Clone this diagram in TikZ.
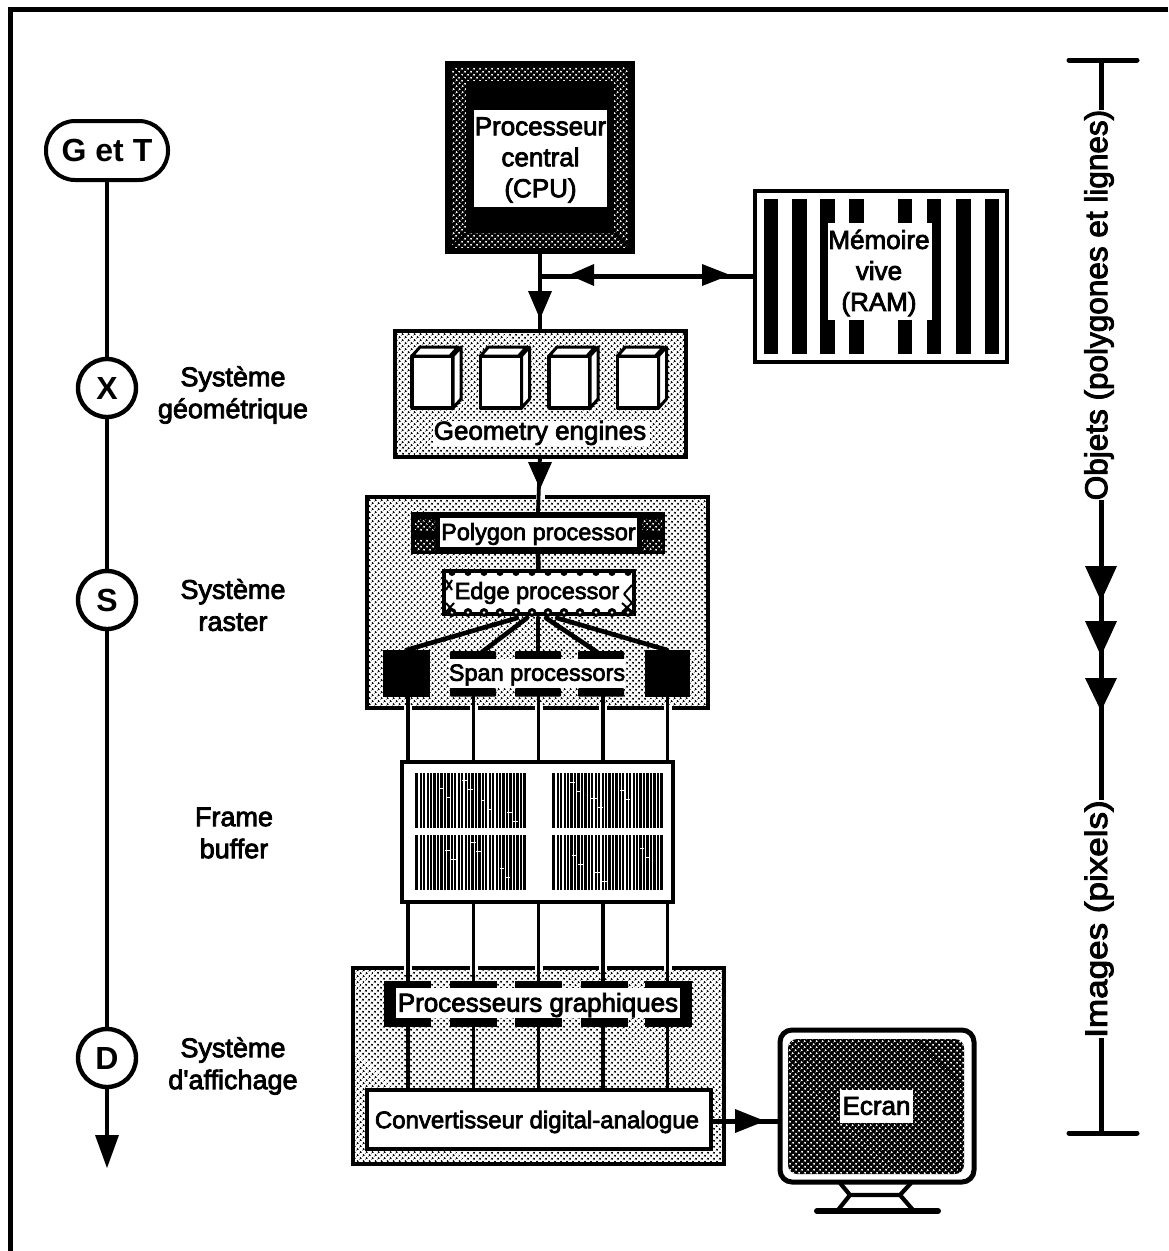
\documentclass[tikz,border=0pt]{standalone}
\usepackage{fontspec}
\setmainfont{Liberation Sans}
\newfontfamily\scan[FakeBold=3]{Liberation Sans}
\usetikzlibrary{patterns.meta}
\tikzset{
  sized/.style 2 args={minimum width=#1pt,minimum height=#2pt},
  ln/.style={line width=4.6pt,black},
  bus/.style={line width=3.8pt,black},
  light/.style={preaction={fill=white},pattern={Dots[distance=4pt,radius=1.3pt,angle=45]},pattern color=black},
  dark/.style={preaction={fill=black},pattern={Dots[distance=4pt,radius=1.2pt,angle=45]},pattern color=white},
  bx/.style={draw=black,line width=4pt,inner sep=0pt,outer sep=0pt},
  whitebx/.style={fill=white,inner sep=0pt,outer sep=0pt},
  solid bx/.style={fill=black,inner sep=0pt,outer sep=0pt},
  lab/.style={font=\scan\fontsize{27}{32}\selectfont,align=center,inner sep=0pt},
  inlab/.style={font=\scan\fontsize{26}{31}\selectfont,align=center,inner sep=0pt},
  circ/.style={draw=black,line width=4.4pt,circle,fill=white,minimum size=58pt,inner sep=0pt,outer sep=0pt,font=\bfseries\fontsize{32}{32}\selectfont},
  halo/.style={line width=8pt,white},
}
\begin{document}
\begin{tikzpicture}[x=1pt,y=-1pt]
\useasboundingbox (0,0) rectangle (1168,1251);
% page frame
\draw[line width=5pt,black] (1168,9) -- (10,9) -- (10,1251);

% left chain
\node[bx,fill=white,rounded corners=29pt,sized={122}{59},font=\bfseries\fontsize{32}{32}\selectfont] (gt) at (107,150.5) {G et T};
\node[circ] (x) at (107,388) {X};
\node[circ] (s) at (107,600) {S};
\node[circ] (d) at (107,1058) {D};
\coordinate (chainend) at (107,1168);
\coordinate (chainbase) at (107,1140);
\draw[ln] (gt) -- (x);
\draw[ln] (x) -- (s);
\draw[ln] (s) -- (d);
\draw[ln] (d) -- (chainbase);
\fill (95,1135) -- (119,1135) -- (chainend) -- cycle;
\node[lab] (l1) at (233,395) {Système\\géométrique};
\node[lab] (l2) at (233,605) {Système\\raster};
\node[lab] (l3) at (234,833) {Frame\\buffer};
\node[lab] (l4) at (233,1066) {Système\\d'affichage};

% CPU
\node[solid bx,sized={190}{193}] (cpuo) at (540,157) {};
\path[dark] (452,67) rectangle (628,247);
\fill[black] (466,81) rectangle (614,233);
\draw[black,line width=2pt] (450,65) -- (466,81) (630,65) -- (614,81) (450,249) -- (466,233) (630,249) -- (614,233);
\node[whitebx,sized={133}{97}] (cpu) at (540.5,158.5) {};
\node[inlab] (cput) at (540.5,160) {Processeur\\central\\(CPU)};

% RAM
\node[bx,fill=white,sized={252}{171}] (ram) at (881,276.5) {};
\foreach \a/\b in {763.5/778,792/807,820/835,849/863.5,898/912,926.5/940.5,956/970.5,985/999}
  \fill[black] (\a,199) rectangle (\b,354);
\node[whitebx,sized={104}{97}] (ramw) at (880,271.5) {};
\node[inlab] (ramt) at (879,273) {Mémoire\\vive\\(RAM)};

% Geometry engines
\node[bx,light,sized={291}{126}] (geom) at (540,393.5) {};
\foreach \x in {412,480.5,549,617.5}{
  \filldraw[fill=white,draw=black,line width=3.8pt,line join=round] (\x,356) rectangle ++(41,52);
  \filldraw[fill=white,draw=black,line width=3pt,line join=round] (\x,356) -- ++(8,-9) -- ++(38,0) -- ++(-8,9) -- cycle;
  \filldraw[fill=white,draw=black,line width=3pt,line join=round] (\x+41,356) -- ++(8,-9) -- ++(0,52) -- ++(-8,9) -- cycle;
}
\node[whitebx,sized={217}{25}] (geomw) at (541,433) {};
\node[inlab] (geomt) at (540,433) {Geometry engines};

% CPU - geometry - RAM connectors
\draw[ln] (cpuo.south) -- (geom.north);
\fill (528,291) -- (552,291) -- (540,319) -- cycle;
\coordinate (junction) at (cpuo.south |- ram.west);
\draw[line width=5pt] (junction) -- (ram.west);
\fill (569,275) -- (594,264) -- (594,286) -- cycle;
\fill (730,275) -- (702,264) -- (702,286) -- cycle;

% Raster box
\node[bx,light,sized={341}{211}] (raster) at (537,602.5) {};
% Polygon processor
\node[solid bx,sized={254}{42}] (poly) at (538,533) {};
\foreach \a/\b in {415/519,415/539,642/519,642/539}
  \path[dark] (\a,\b) rectangle ++(20,11);
\node[whitebx,sized={197}{29}] (polyw) at (538.5,532.5) {};
\node[inlab,font=\scan\fontsize{23.5}{28}\selectfont] (polyt) at (538.5,534) {Polygon processor};
% Edge processor
\node[bx,fill=white,sized={190}{43}] (edge) at (538.5,592.5) {};
\foreach \x in {452,468,484,500,516,532,548,564,580,596,612,628}{
  \fill[black] (\x,572.5) circle (3.5pt);
  \fill[black] (\x,612.5) circle (4.5pt);
  \fill[white] (\x,612.5) circle (1.4pt);
}
\draw[black,line width=2pt] (446,580) -- (452,590) (452,580) -- (446,590) (446,603) -- (454,612) (454,603) -- (446,612) (622,603) -- (632,612) (632,603) -- (622,612) (624,594) -- (632,585) (624,594) -- (632,603);
\node[inlab,font=\scan\fontsize{23.5}{28}\selectfont] (edget) at (537,593) {Edge processor};
\draw[ln] (poly.south) -- (edge.north);
% Span processors
\node[solid bx,sized={47}{47}] (sq1) at (406.5,673.5) {};
\node[solid bx,sized={45}{47}] (sq2) at (667,673.5) {};
\foreach \i/\a in {1/450,2/515,3/578}{
  \fill[black,rounded corners=1pt] (\a,651) rectangle ++(46,8.5);
  \fill[black,rounded corners=1pt] (\a,688) rectangle ++(46,8.5);
}
\node[whitebx,sized={176}{29}] (span) at (537,673.5) {};
\node[inlab,font=\scan\fontsize{23.5}{28}\selectfont] (spant) at (537,675) {Span processors};
% fan
\coordinate (f1) at (517,618);
\coordinate (f2) at (527,618);
\coordinate (f3) at (538,618);
\coordinate (f4) at (546,618);
\coordinate (f5) at (557,618);
\coordinate (d2) at (482,652);
\coordinate (d3) at (538,652);
\coordinate (d4) at (597,652);
\draw[ln,line cap=round] (f1) -- (sq1.north);
\draw[ln,line cap=round] (f2) -- (d2);
\draw[ln,line cap=round] (f3) -- (d3);
\draw[ln,line cap=round] (f4) -- (d4);
\draw[ln,line cap=round] (f5) -- (sq2.north);
% geometry -> polygon processor, with a white gap in the box border
\draw[line width=9pt,white] (540,494) -- (540,500);
\draw[bus] (geom.south) -- (poly.north);
\fill (528,462) -- (552,462) -- (540,489) -- cycle;

% Frame buffer
\node[bx,fill=white,sized={271}{140}] (fb) at (537.5,832) {};
\foreach \a/\b in {415/773,552/773,415/835,552/835}{
  \fill[black] (\a,\b) rectangle ++(110.5,55);
  \foreach \k in {1,...,31}
    \fill[white] (\a+\k*3.45,\b) rectangle ++(1.2,55);
}
\foreach \a/\b/\c in {440/788/4,462/780/5,481/800/4,507/812/5,570/782/5,591/798/6,620/790/4,445/850/5,470/842/6,500/868/4,572/855/5,595/872/6,640/848/4}{
  \fill[white] (\a,\b) rectangle ++(\c,1.3);
  \fill[white] (\a+6,\b+9) rectangle ++(\c,1.3);
}

% Display box
\node[bx,light,sized={371}{196}] (disp) at (538.5,1066) {};
\coordinate (b1) at (408,0);
\coordinate (b2) at (473.5,0);
\coordinate (b3) at (538.5,0);
\coordinate (b4) at (603,0);
\coordinate (b5) at (667.5,0);
% Graphic processors
\foreach \a in {384,450,515,581,645}{
  \fill[black] (\a,981) rectangle ++(47,8);
  \fill[black] (\a,1018) rectangle ++(47,9);
}
\fill[black] (384,981) rectangle (396,1027);
\fill[black] (680,981) rectangle (692,1027);
\node[whitebx,sized={284}{30}] (gp) at (538,1003) {};
% Converter
\node[bx,fill=white,sized={344}{59}] (dac) at (539,1119.5) {};
% vertical bundles with white gaps through the box borders
\foreach \n in {b1,b2,b3,b4,b5}{
  \draw[halo] (raster.south -| \n) ++(0,-3) -- ++(0,6);
  \draw[halo] (disp.north -| \n) ++(0,-3) -- ++(0,6);
  \draw[bus] (raster.south -| \n) ++(0,-12) -- (fb.north -| \n);
  \draw[bus] (fb.south -| \n) -- (gp.north -| \n);
  \draw[bus] (gp.south -| \n) -- (dac.north -| \n);
}
\node[inlab,font=\scan\fontsize{26}{30}\selectfont] (gpt) at (538,1005) {Processeurs graphiques};
\node[inlab,font=\scan\fontsize{24}{28}\selectfont] (dact) at (537,1122) {Convertisseur digital-analogue};

% Monitor
\node[draw=black,fill=white,line width=5pt,rounded corners=12pt,inner sep=0pt,outer sep=0pt,sized={194}{152}] (mon) at (877,1106) {};
\path[dark,rounded corners=9pt] (788,1039) rectangle (964,1174);
\node[whitebx,sized={73}{33}] (ecr) at (876.5,1106.5) {};
\node[inlab] (ecrt) at (876.5,1106) {Ecran};
\draw[line width=4.2pt] (840,1183) -- (850,1195) -- (838,1210) (911,1183) -- (900,1195) -- (913,1210) (850,1195) -- (900,1195);
\draw[line width=6pt,line cap=round] (817,1211) -- (938,1211);
% DAC -> monitor
\coordinate (dacy) at (0,1121);
\draw[line width=5pt] (dac.east |- dacy) -- (mon.west |- dacy);
\fill (735,1109) -- (765,1121) -- (735,1133) -- cycle;

% Right scale
\coordinate (topc) at (1101,60);
\coordinate (botc) at (1101,1133);
\draw[line width=5pt,line cap=round] (1069,60) -- (1137,60);
\draw[line width=5pt,line cap=round] (1069,1133) -- (1137,1133);
\node[rotate=90,inner sep=0pt,font=\scan\fontsize{31.5}{32}\selectfont] (obj) at (1099,305) {Objets (polygones et lignes)};
\node[rotate=90,inner sep=0pt,font=\scan\fontsize{31}{32}\selectfont] (img) at (1099,919) {\scalebox{1.13}[1]{Images (pixels)}};
\draw[line width=5pt] (topc) -- (obj.east -| topc);
\draw[line width=5pt] (obj.west -| topc) -- (img.east -| topc);
\draw[line width=5pt] (img.west -| topc) -- (botc);
\foreach \t/\b in {566/601,621/656,678/711}
  \fill (1085,\t) -- (1117,\t) -- (1101,\b) -- cycle;
\end{tikzpicture}
\end{document}
